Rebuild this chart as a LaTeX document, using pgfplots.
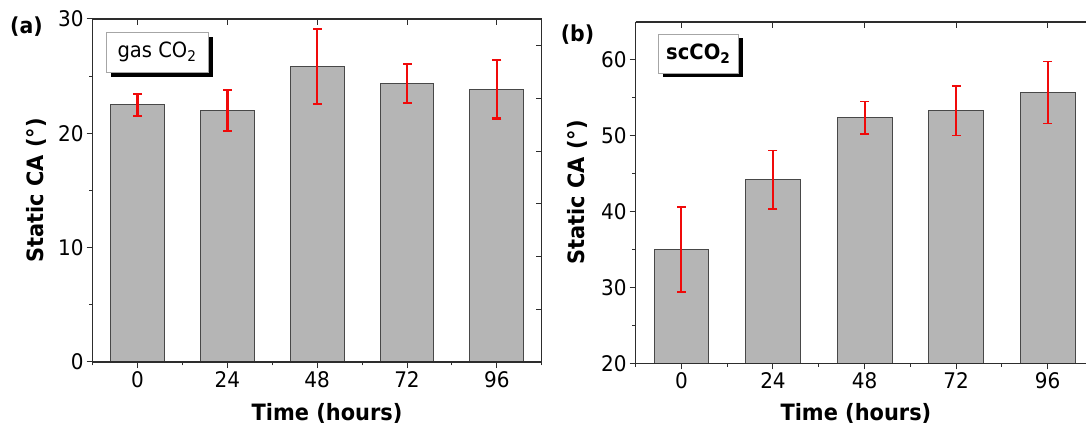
\documentclass[border=0pt]{standalone}
\usepackage{pgfplots}
\pgfplotsset{compat=1.18}
\usepackage{fontspec}
\setmainfont{DejaVu Sans}[FakeStretch=0.93]
\definecolor{barfill}{RGB}{181,181,181}
\definecolor{baredge}{RGB}{72,72,72}
\definecolor{axcol}{RGB}{45,45,45}
\definecolor{errred}{RGB}{240,10,10}

\pgfplotsset{
  base/.style={
    scale only axis, clip=true,
    unbounded coords=jump,
    axis line style={axcol, line width=1.3pt},
    every tick/.style={axcol, line width=1pt},
    major tick length=6pt, minor tick length=3.5pt,
    tick align=outside,
    /pgf/number format/assume math mode=true,
    tick label style={font=\fontsize{21.5}{24}\selectfont, text=black},
    yticklabel style={inner sep=3pt},
    xticklabel style={inner sep=3pt},
    label style={font=\bfseries\fontsize{22.5}{26}\selectfont},
  },
  over/.style={
    scale only axis,
    axis line style={axcol, line width=1.3pt},
    every tick/.style={axcol, line width=1pt},
    major tick length=6pt,
    tick align=inside,
    xticklabels={}, yticklabels={},
    minor xtick={}, minor ytick={},
  },
  errA/.style={errred, line width=2.3pt, mark=-, mark size=4.5pt,
    mark options={solid, errred, line width=2.1pt}},
  errB/.style={errred, line width=2pt, mark=-, mark size=4.5pt,
    mark options={solid, errred, line width=1.5pt}},
}

\begin{document}
\begin{tikzpicture}
\useasboundingbox (0,0) rectangle (1086pt,428pt);

% ---------- panel (a) ----------
\begin{axis}[base, at={(92.7pt,66pt)}, anchor=south west,
  width=449pt, height=343pt,
  xmin=-0.5, xmax=4.5, ymin=0, ymax=30,
  xtick={0,1,2,3,4}, xticklabels={0,24,48,72,96},
  ytick={0,10,20,30}, minor ytick={5,15,25},
  minor xtick={-0.5,0.5,1.5,2.5,3.5,4.5},
  xtick pos=left, ytick pos=left,
  xlabel={Time (hours)}, ylabel={Static CA (°)},
  xlabel style={at={(axis description cs:0.522,-0.150)}, anchor=center},
  ylabel style={at={(axis description cs:-0.1247,0.5)}, anchor=center},
]
% mean values
\addplot[ybar, bar width=0.6, fill=barfill, draw=baredge, line width=0.9pt]
  coordinates {(0,22.5) (1,22.0) (2,25.83) (3,24.35) (4,23.84)};
% error bars: mean - sd to mean + sd
\addplot[errA] coordinates {
  (0,21.55) (0,23.45) (0.5,nan)
  (1,20.2)  (1,23.8)  (1.5,nan)
  (2,22.56) (2,29.1)  (2.5,nan)
  (3,22.67) (3,26.03) (3.5,nan)
  (4,21.3)  (4,26.38)};
\end{axis}
\begin{axis}[over, at={(92.7pt,66pt)}, anchor=south west,
  width=449pt, height=343pt,
  xmin=-0.5, xmax=4.5, ymin=0, ymax=30,
  xtick={0,1,2,3,4}, ytick={4.61,9.22,13.83,18.44,23.05,27.66},
  xtick pos=right, ytick pos=right]
\end{axis}
\fill[black] (111pt,351pt) rectangle (213pt,391pt);
\draw[gray!70, fill=white, line width=0.8pt] (106pt,356pt) rectangle (208pt,396pt);
\node at (157pt,376pt) {\fontsize{21}{24}\selectfont gas CO\textsubscript{2}};
\node[font=\bfseries\fontsize{22}{26}\selectfont] at (26.5pt,401pt) {(a)};

% ---------- panel (b) ----------
\begin{axis}[base, at={(635.7pt,64.7pt)}, anchor=south west,
  width=450.3pt, height=341.3pt,
  xmin=-0.5, xmax=4.42, ymin=20, ymax=65,
  axis x line*=box, axis y line*=left,
  xtick={0,1,2,3,4}, xticklabels={0,24,48,72,96},
  ytick={20,30,40,50,60}, minor ytick={25,35,45,55},
  minor xtick={-0.5,0.5,1.5,2.5,3.5},
  xtick pos=left, ytick pos=left,
  xlabel={Time (hours)}, ylabel={Static CA (°)},
  xlabel style={at={(axis description cs:0.489,-0.147)}, anchor=center},
  ylabel style={at={(axis description cs:-0.1304,0.5)}, anchor=center},
]
\addplot[ybar, bar width=0.6, fill=barfill, draw=baredge, line width=0.9pt]
  coordinates {(0,34.98) (1,44.2) (2,52.37) (3,53.29) (4,55.71)};
\addplot[errB] coordinates {
  (0,29.38) (0,40.58) (0.5,nan)
  (1,40.37) (1,48.03) (1.5,nan)
  (2,50.24) (2,54.5)  (2.5,nan)
  (3,50.05) (3,56.53) (3.5,nan)
  (4,51.61) (4,59.81)};
\end{axis}
\begin{axis}[over, at={(635.7pt,64.7pt)}, anchor=south west,
  width=450.3pt, height=341.3pt,
  xmin=-0.5, xmax=4.42, ymin=20, ymax=65,
  axis x line*=box, axis y line*=left,
  xtick={0,1,2,3,4}, ytick=\empty,
  xtick pos=right]
\end{axis}
\fill[black] (662.5pt,350.5pt) rectangle (743pt,389.5pt);
\draw[gray!70, fill=white, line width=0.8pt] (658pt,355pt) rectangle (738.6pt,394pt);
\node at (698.3pt,374.5pt) {\bfseries\fontsize{21}{24}\selectfont scCO\textsubscript{2}};
\node[font=\bfseries\fontsize{22}{26}\selectfont] at (577.5pt,393.5pt) {(b)};
\end{tikzpicture}
\end{document}
